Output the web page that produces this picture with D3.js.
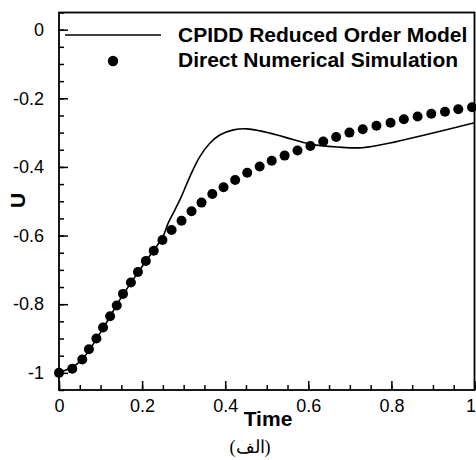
<!DOCTYPE html>
<html>
<head>
<meta charset="utf-8">
<script src="https://cdn.jsdelivr.net/npm/d3@7"></script>
<style>
  body { margin: 0; background: #fff; }
  svg { display: block; }
</style>
</head>
<body>
<svg width="476" height="460"></svg>
<script>
// reduced order model curve (time, U)
var romTime = [0, 0.05, 0.1, 0.15, 0.2, 0.25, 0.262, 0.279, 0.295, 0.315, 0.339, 0.363, 0.387, 0.42, 0.452, 0.484, 0.525, 0.565, 0.6, 0.63, 0.67, 0.73, 0.81, 0.89, 1.0];
var romU = [-1.0, -0.968, -0.882, -0.78, -0.69, -0.603, -0.566, -0.525, -0.485, -0.428, -0.37, -0.331, -0.307, -0.292, -0.289, -0.295, -0.307, -0.321, -0.332, -0.338, -0.342, -0.344, -0.327, -0.304, -0.271];

// direct numerical simulation points
var dnsTime = [0, 0.032, 0.056, 0.072, 0.09, 0.106, 0.123, 0.139, 0.154, 0.173, 0.19, 0.209, 0.228, 0.249, 0.271, 0.295, 0.319, 0.343, 0.369, 0.396, 0.424, 0.453, 0.483, 0.512, 0.543, 0.574, 0.605, 0.636, 0.667, 0.699, 0.731, 0.764, 0.798, 0.83, 0.863, 0.896, 0.929, 0.961, 0.994];
var dnsU = [-1.0, -0.988, -0.961, -0.931, -0.9, -0.868, -0.835, -0.804, -0.77, -0.737, -0.706, -0.674, -0.644, -0.613, -0.584, -0.557, -0.529, -0.504, -0.479, -0.459, -0.438, -0.417, -0.399, -0.382, -0.367, -0.352, -0.339, -0.326, -0.313, -0.3, -0.29, -0.28, -0.271, -0.261, -0.253, -0.245, -0.239, -0.232, -0.226];

var xTicks = [0, 0.2, 0.4, 0.6, 0.8, 1];
var yTicks = [0, -0.2, -0.4, -0.6, -0.8, -1];
var legendLabels = ['CPIDD Reduced Order Model', 'Direct Numerical Simulation'];
var caption = '(الف)';

document.addEventListener('DOMContentLoaded', function () {
    const svg = d3.select('svg');
    const left = 59, right = 474.5, top = 12.5, bottom = 390;

    const xScale = d3.scaleLinear().domain([0, 1]).range([left, right]);
    const yScale = d3.scaleLinear().domain([-1.05, 0.05]).range([bottom, top]);

    // minor ticks every 0.05
    const xMinor = d3.range(0, 1.001, 0.05);
    const yMinor = d3.range(-1.05, 0.051, 0.05).map(v => Math.round(v * 100) / 100);

    const font = 'Liberation Sans, Arial, sans-serif';

    // x axis (ticks point inward)
    const xAxis = svg.append('g').attr('transform', `translate(0,${bottom})`);
    xAxis.call(d3.axisBottom(xScale).tickValues(xMinor).tickSize(-5).tickFormat(''));
    xAxis.append('g').call(d3.axisBottom(xScale).tickValues(xTicks).tickSize(-9).tickPadding(18).tickFormat(d => String(d)));

    const yAxis = svg.append('g').attr('transform', `translate(${left},0)`);
    yAxis.call(d3.axisLeft(yScale).tickValues(yMinor).tickSize(-5).tickFormat(''));
    yAxis.append('g').call(d3.axisLeft(yScale).tickValues(yTicks).tickSize(-9).tickPadding(15).tickFormat(d => String(d)));

    svg.selectAll('.domain').remove();
    svg.selectAll('.tick line').attr('stroke', '#000').attr('stroke-width', 1.5);
    svg.selectAll('.tick text').attr('font-family', font).attr('font-size', 18).attr('fill', '#000');
    xAxis.selectAll('.tick text').attr('dy', '0.2em');
    // keep the last label inside the page
    xAxis.selectAll('.tick text').filter(d => d === 1).attr('dx', -4);

    // frame
    svg.append('rect')
        .attr('x', left).attr('y', top)
        .attr('width', right - left).attr('height', bottom - top)
        .attr('fill', 'none').attr('stroke', '#000').attr('stroke-width', 1.8);

    // ROM line
    const romData = romTime.map((t, i) => ({ t: t, u: romU[i] }));
    const line = d3.line()
        .x(d => xScale(d.t))
        .y(d => yScale(d.u))
        .curve(d3.curveCatmullRom.alpha(0.5));
    svg.append('path')
        .datum(romData)
        .attr('fill', 'none')
        .attr('stroke', '#000')
        .attr('stroke-width', 1.6)
        .attr('d', line);

    // DNS dots
    const dnsData = dnsTime.map((t, i) => ({ t: t, u: dnsU[i] }));
    svg.append('g').selectAll('circle')
        .data(dnsData)
        .join('circle')
        .attr('cx', d => xScale(d.t))
        .attr('cy', d => yScale(d.u))
        .attr('r', 5)
        .attr('fill', '#000');

    // legend
    const legend = svg.append('g');
    legend.append('line')
        .attr('x1', 65).attr('x2', 161).attr('y1', 35).attr('y2', 35)
        .attr('stroke', '#000').attr('stroke-width', 1.6);
    legend.append('circle').attr('cx', 113).attr('cy', 61).attr('r', 5.2).attr('fill', '#000');
    legend.selectAll('text')
        .data(legendLabels)
        .join('text')
        .attr('x', 178)
        .attr('y', (d, i) => 42 + i * 25)
        .attr('font-family', font)
        .attr('font-weight', 'bold')
        .attr('font-size', 21)
        .text(d => d);

    // axis titles
    svg.append('text')
        .attr('x', 268).attr('y', 426)
        .attr('text-anchor', 'middle')
        .attr('font-family', font).attr('font-weight', 'bold').attr('font-size', 21)
        .text('Time');
    svg.append('text')
        .attr('transform', 'translate(25,200.5) rotate(-90)')
        .attr('text-anchor', 'middle')
        .attr('font-family', font).attr('font-weight', 'bold').attr('font-size', 21)
        .text('U');

    // caption
    svg.append('text')
        .attr('x', 250).attr('y', 453)
        .attr('text-anchor', 'middle')
        .attr('font-family', 'Liberation Serif, DejaVu Serif, serif')
        .attr('font-size', 18)
        .text(caption);
});
</script>
</body>
</html>
